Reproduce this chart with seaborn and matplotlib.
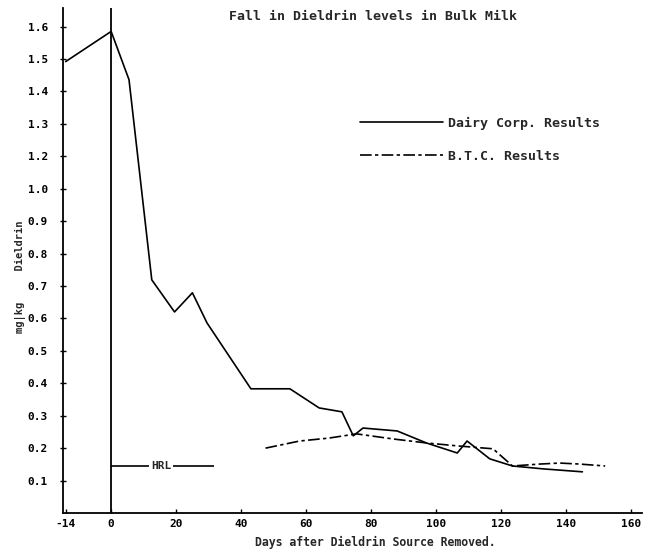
import matplotlib
matplotlib.use("Agg")
import matplotlib.pyplot as plt
import seaborn as sns
import numpy as np

# ---- data (y in plotted position units; tick labels as printed on the original) ----
dairy_days = [-14, 0, 5.5, 12.5, 19.5, 25, 29.5, 43, 55, 64, 71, 74.5, 77.5, 88, 97,
              106.5, 109.5, 116.5, 123.5, 133, 145]
dairy_vals = [1.392, 1.485, 1.336, 0.719, 0.620, 0.679, 0.586, 0.383, 0.383, 0.324, 0.312,
              0.238, 0.262, 0.253, 0.216, 0.185, 0.222, 0.167, 0.145, 0.136, 0.127]
btc_days = [47.5, 58, 67, 75.5, 87, 97, 106.5, 117.5, 123.5, 132, 138, 144, 152]
btc_vals = [0.200, 0.222, 0.231, 0.244, 0.228, 0.216, 0.207, 0.198, 0.145, 0.151,
            0.154, 0.151, 0.145]
hrl_level = 0.145
hrl_start, hrl_end = 0, 31.5
hrl_text_day = 15.3

x_ticks = [-14, 0, 20, 40, 60, 80, 100, 120, 140, 160]
y_tick_pos = [0.1, 0.2, 0.3, 0.4, 0.5, 0.6, 0.7, 0.8, 0.9, 1.0, 1.1, 1.2, 1.3, 1.4, 1.5]
y_tick_labels = ["0.1", "0.2", "0.3", "0.4", "0.5", "0.6", "0.7", "0.8", "0.9", "1.0",
                 "1.2", "1.3", "1.4", "1.5", "1.6"]

sns.set_theme(style="white")
plt.rcParams['font.family'] = ['DejaVu Sans Mono', 'DejaVu Sans']
plt.rcParams['font.weight'] = 'bold'

fig = plt.figure(figsize=(6.5, 5.54), dpi=100)
ax = fig.add_axes([0.097, 0.074, 0.891, 0.912])

sns.lineplot(x=dairy_days, y=dairy_vals, ax=ax, color="black", linewidth=1.2,
             label="Dairy Corp. Results", sort=False, estimator=None)
sns.lineplot(x=btc_days, y=btc_vals, ax=ax, color="black", linewidth=1.2,
             label="B.T.C. Results", sort=False, estimator=None, dashes=False)
ax.lines[1].set_dashes([7, 2, 2, 2])

ax.axvline(0, color="black", linewidth=1.3)
ax.hlines(hrl_level, hrl_start, hrl_end, color="black", linewidth=1.2)
ax.text(hrl_text_day, hrl_level, "HRL", ha="center", va="center", fontsize=8,
        fontweight="bold", bbox=dict(facecolor="white", edgecolor="none", pad=1.5))

ax.set_xlim(-14.8, 163.4)
ax.set_ylim(0, 1.558)
ax.set_xticks(x_ticks)
ax.set_xticklabels([str(t) for t in x_ticks])
ax.set_yticks(y_tick_pos)
ax.set_yticklabels(y_tick_labels)
ax.tick_params(axis="both", labelsize=8, colors="black")
ax.tick_params(axis="x", direction="in", length=3, width=1, pad=4, bottom=True)
ax.tick_params(axis="y", direction="inout", length=4, width=1, pad=9, left=True)

for s in ["top", "right"]:
    ax.spines[s].set_visible(False)
for s in ["left", "bottom"]:
    ax.spines[s].set_color("black")
    ax.spines[s].set_linewidth(1.3)

ax.set_xlabel("")
ax.set_ylabel("")
fig.text(0.574, 0.971, "Fall in Dieldrin levels in Bulk Milk", ha="center", va="center",
         fontsize=9.5, fontweight="bold")
fig.text(0.578, 0.020, "Days after Dieldrin Source Removed.", ha="center", va="center",
         fontsize=8.3, fontweight="bold")
fig.text(0.031, 0.50, "mg|kg     Dieldrin", rotation=90, ha="center", va="center",
         fontsize=7.5, fontweight="bold")

leg = ax.legend(loc="upper left", bbox_to_anchor=(360 / 650, (554 - 117) / 554),
                bbox_transform=fig.transFigure, frameon=False, fontsize=9.5,
                handlelength=6.3, handletextpad=0.35, labelspacing=1.5,
                borderpad=0, borderaxespad=0)
for t in leg.get_texts():
    t.set_fontweight("bold")

fig.savefig("out.png", dpi=100)
